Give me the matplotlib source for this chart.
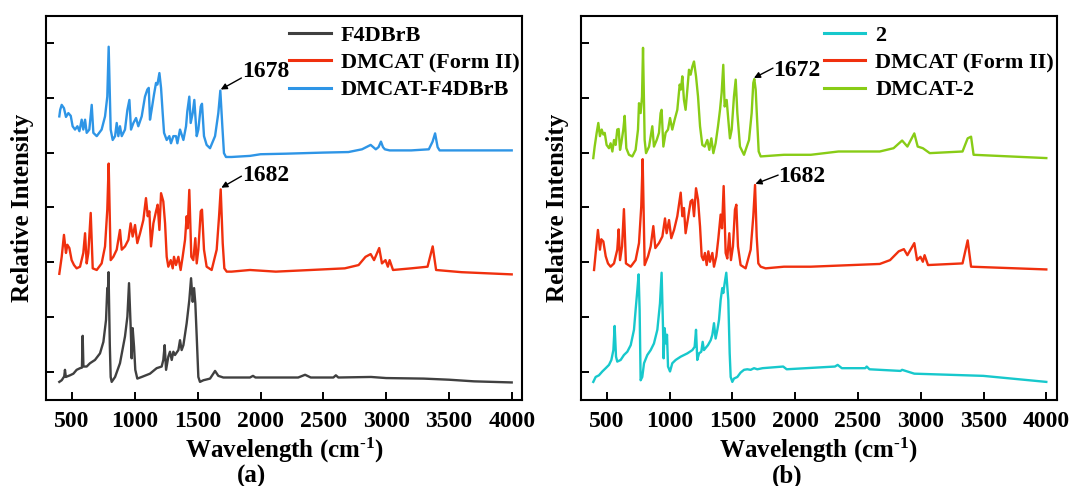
import matplotlib
matplotlib.use("Agg")
import matplotlib.pyplot as plt

plt.rcParams['font.family'] = ['Liberation Serif', 'DejaVu Serif']
plt.rcParams['font.weight'] = 'bold'
plt.rcParams['mathtext.fontset'] = 'custom'
plt.rcParams['mathtext.rm'] = 'Liberation Serif:bold'
plt.rcParams['mathtext.it'] = 'Liberation Serif:italic:bold'
plt.rcParams['mathtext.bf'] = 'Liberation Serif:bold'

# ---------------- data (wavenumber, stacked relative intensity) ----------------
f4dbrb = [(398, -0.18), (417, -0.15), (437, -0.08), (443, 0.04), (450, -0.09), (483, -0.06),
          (510, -0.03), (536, 0.04), (563, 0.07), (578, 0.08), (584, 0.66), (590, 0.10),
          (616, 0.10), (642, 0.16), (682, 0.22), (722, 0.34), (749, 0.55), (770, 0.95),
          (780, 1.53), (784, 1.40), (790, 1.82), (800, 0.50), (807, -0.09), (815, -0.18),
          (842, -0.09), (881, 0.16), (921, 0.65), (940, 1.01), (953, 1.62), (966, 0.83),
          (974, 0.25), (982, 0.80), (993, 0.46), (1003, 0.04), (1019, -0.12), (1054, -0.09),
          (1120, -0.03), (1173, 0.07), (1213, 0.10), (1226, 0.22), (1237, 0.49), (1248, 0.04),
          (1266, 0.28), (1279, 0.37), (1293, 0.22), (1306, 0.37), (1319, 0.31), (1346, 0.40),
          (1359, 0.58), (1372, 0.40), (1386, 0.49), (1412, 0.89), (1433, 1.31), (1447, 1.71),
          (1460, 1.28), (1471, 1.53), (1481, 1.25), (1492, 0.65), (1505, -0.09), (1518, -0.18),
          (1545, -0.15), (1598, -0.12), (1624, -0.03), (1638, 0.02), (1664, -0.07), (1704, -0.10),
          (1916, -0.10), (1940, -0.07), (1960, -0.10), (2300, -0.10), (2355, -0.05), (2400, -0.10),
          (2580, -0.10), (2600, -0.06), (2620, -0.10), (2880, -0.09), (3000, -0.11), (3300, -0.12),
          (3500, -0.14), (3700, -0.17), (4000, -0.19)]

dmcat_a = [(398, 1.79), (417, 2.10), (435, 2.50), (451, 2.17), (462, 2.32), (478, 2.26), (496, 2.04),
           (515, 1.95), (536, 1.89), (563, 1.92), (589, 2.17), (603, 2.53), (616, 1.98), (629, 2.17),
           (648, 2.90), (664, 1.89), (696, 1.86), (735, 1.98), (762, 2.29), (780, 2.96), (791, 3.80),
           (807, 2.04), (828, 2.10), (855, 2.23), (881, 2.59), (895, 2.23), (921, 2.29), (948, 2.41),
           (966, 2.71), (982, 2.47), (1001, 2.68), (1019, 2.35), (1041, 2.53), (1067, 2.77),
           (1088, 3.17), (1102, 2.84), (1115, 2.93), (1128, 2.29), (1147, 2.71), (1168, 2.93),
           (1181, 3.05), (1195, 2.59), (1208, 3.26), (1226, 3.11), (1240, 2.71), (1253, 2.10),
           (1266, 1.92), (1285, 2.04), (1301, 1.89), (1311, 2.10), (1327, 1.95), (1346, 2.10),
           (1364, 1.86), (1380, 2.10), (1399, 2.41), (1412, 2.84), (1420, 2.62), (1433, 3.32),
           (1449, 2.10), (1465, 2.04), (1481, 2.44), (1492, 1.98), (1505, 2.23), (1524, 2.93),
           (1534, 2.96), (1550, 2.23), (1571, 1.92), (1611, 1.86), (1651, 2.23), (1670, 2.84),
           (1683, 3.33), (1699, 2.35), (1712, 1.89), (1731, 1.83), (1770, 1.83), (1916, 1.86),
           (2122, 1.83), (2400, 1.86), (2671, 1.89), (2781, 1.95), (2836, 2.10), (2877, 2.15),
           (2904, 2.04), (2945, 2.26), (2967, 1.98), (2995, 2.04), (3014, 1.92), (3028, 2.04),
           (3055, 1.86), (3200, 1.89), (3330, 1.92), (3371, 2.29), (3398, 1.86), (3600, 1.82),
           (4000, 1.78)]

dmcat_f4dbrb = [(398, 4.66), (405, 4.78), (417, 4.87), (435, 4.81), (451, 4.65), (470, 4.72),
                (489, 4.67), (504, 4.48), (523, 4.42), (542, 4.48), (558, 4.39), (576, 4.60),
                (589, 4.42), (603, 4.60), (616, 4.36), (637, 4.42), (656, 4.87), (669, 4.36),
                (696, 4.30), (735, 4.42), (762, 4.66), (780, 5.02), (791, 5.93), (807, 4.42),
                (823, 4.23), (842, 4.30), (855, 4.54), (868, 4.30), (881, 4.48), (895, 4.30),
                (921, 4.42), (940, 4.78), (956, 4.96), (969, 4.42), (988, 4.54), (1009, 4.63),
                (1027, 4.48), (1054, 4.66), (1080, 5.02), (1099, 5.15), (1110, 5.18), (1120, 4.60),
                (1133, 4.78), (1152, 5.06), (1168, 5.27), (1179, 5.24), (1195, 5.45), (1208, 5.18),
                (1221, 4.72), (1232, 4.36), (1253, 4.23), (1274, 4.30), (1287, 4.17), (1306, 4.30),
                (1327, 4.30), (1338, 4.17), (1359, 4.42), (1386, 4.23), (1407, 4.48), (1417, 4.75),
                (1433, 5.02), (1444, 4.54), (1460, 4.72), (1473, 4.96), (1492, 4.30), (1505, 4.42),
                (1524, 4.84), (1534, 4.89), (1550, 4.30), (1571, 4.14), (1598, 4.08), (1638, 4.30),
                (1664, 4.72), (1680, 5.13), (1696, 4.48), (1709, 3.99), (1725, 3.92), (1770, 3.92),
                (1916, 3.94), (2000, 3.97), (2200, 3.98), (2500, 4.00), (2700, 4.01), (2808, 4.06),
                (2877, 4.14), (2918, 4.06), (2940, 4.10), (2959, 4.20), (2975, 4.10), (2990, 4.06),
                (3028, 4.04), (3200, 4.04), (3340, 4.06), (3370, 4.20), (3390, 4.35), (3410, 4.10),
                (3426, 4.04), (3600, 4.04), (4000, 4.04)]

coformer_2 = [(393, -0.18), (412, -0.09), (438, -0.06), (465, 0.01), (492, 0.07), (518, 0.13),
              (537, 0.22), (553, 0.40), (563, 0.84), (574, 0.28), (584, 0.19), (611, 0.22),
              (637, 0.31), (664, 0.37), (691, 0.49), (717, 0.77), (730, 1.13), (744, 1.50),
              (754, 1.78), (762, 1.13), (770, -0.15), (783, -0.09), (797, 0.16), (823, 0.31),
              (850, 0.40), (876, 0.52), (903, 0.77), (924, 1.25), (937, 1.81), (948, 0.83),
              (953, 0.25), (961, 0.80), (972, 0.52), (980, 0.68), (988, 0.10), (1004, 0.01),
              (1022, 0.16), (1049, 0.22), (1089, 0.28), (1142, 0.34), (1182, 0.40), (1200, 0.46),
              (1211, 0.77), (1221, 0.22), (1235, 0.34), (1253, 0.37), (1264, 0.55), (1274, 0.40),
              (1306, 0.49), (1328, 0.58), (1341, 0.68), (1354, 0.89), (1367, 0.61), (1381, 0.77),
              (1394, 0.95), (1407, 1.31), (1420, 1.53), (1428, 1.44), (1439, 1.62), (1452, 1.81),
              (1460, 1.56), (1468, 1.31), (1479, 0.34), (1487, -0.09), (1500, -0.18), (1513, -0.12),
              (1540, -0.09), (1566, -0.01), (1593, 0.04), (1619, 0.05), (1646, 0.04), (1673, 0.07),
              (1699, 0.05), (1741, 0.07), (1905, 0.10), (1933, 0.05), (2317, 0.10), (2339, 0.13),
              (2372, 0.07), (2559, 0.07), (2570, 0.10), (2592, 0.05), (2839, 0.02), (2852, 0.04),
              (2949, -0.03), (3498, -0.07), (4000, -0.18)]

dmcat_b = [(399, 1.86), (412, 2.17), (430, 2.59), (446, 2.23), (457, 2.42), (473, 2.38), (492, 2.11),
           (510, 1.98), (531, 1.92), (558, 1.98), (584, 2.23), (595, 2.60), (606, 2.04), (622, 2.29),
           (637, 2.97), (653, 1.98), (691, 1.92), (730, 2.04), (757, 2.35), (775, 3.02), (786, 3.88),
           (802, 1.95), (829, 2.11), (850, 2.29), (871, 2.66), (887, 2.26), (916, 2.35), (943, 2.47),
           (964, 2.80), (977, 2.53), (996, 2.77), (1014, 2.44), (1036, 2.59), (1062, 2.84),
           (1089, 3.27), (1102, 2.84), (1115, 2.99), (1128, 2.53), (1147, 2.80), (1168, 3.11),
           (1182, 3.14), (1195, 2.84), (1211, 3.35), (1227, 3.14), (1243, 2.65), (1256, 2.11),
           (1269, 2.04), (1282, 2.17), (1296, 1.95), (1309, 2.20), (1322, 2.01), (1341, 2.17),
           (1354, 1.92), (1373, 2.11), (1389, 2.44), (1407, 2.87), (1418, 2.62), (1431, 3.39),
           (1447, 2.17), (1460, 2.07), (1476, 2.53), (1489, 2.04), (1505, 2.29), (1521, 2.96),
           (1532, 3.05), (1545, 2.29), (1566, 1.95), (1606, 1.89), (1646, 2.23), (1667, 2.84),
           (1681, 3.41), (1694, 2.47), (1707, 1.98), (1726, 1.92), (1765, 1.89), (1911, 1.92),
           (2125, 1.92), (2674, 1.97), (2756, 2.04), (2825, 2.20), (2866, 2.24), (2894, 2.13),
           (2949, 2.35), (2971, 2.04), (2998, 2.10), (3017, 2.01), (3031, 2.13), (3058, 1.95),
           (3333, 1.98), (3374, 2.40), (3401, 1.92), (4000, 1.87)]

dmcat_2 = [(393, 3.90), (404, 4.11), (420, 4.36), (433, 4.54), (446, 4.30), (460, 4.42), (473, 4.33),
           (484, 4.36), (499, 4.14), (518, 4.08), (531, 4.17), (545, 4.02), (558, 4.23), (571, 4.14),
           (584, 4.42), (595, 4.43), (606, 4.05), (616, 4.17), (632, 4.42), (643, 4.67), (656, 4.08),
           (677, 3.96), (704, 3.93), (730, 4.05), (749, 4.42), (757, 4.90), (770, 4.72), (781, 5.02),
           (789, 5.91), (802, 4.23), (813, 3.99), (837, 4.11), (863, 4.48), (876, 4.11), (898, 4.23),
           (916, 4.36), (929, 4.72), (937, 4.78), (951, 4.11), (969, 4.36), (988, 4.42), (1004, 4.63),
           (1022, 4.42), (1041, 4.60), (1062, 4.78), (1081, 5.24), (1091, 5.15), (1102, 5.39),
           (1115, 4.96), (1128, 4.78), (1142, 5.15), (1155, 5.51), (1168, 5.42), (1182, 5.57),
           (1195, 5.66), (1211, 5.39), (1227, 5.02), (1243, 4.48), (1261, 4.14), (1280, 4.11),
           (1301, 4.23), (1317, 4.05), (1333, 4.26), (1349, 3.99), (1367, 4.17), (1386, 4.48),
           (1402, 4.78), (1415, 5.09), (1428, 5.60), (1439, 4.84), (1455, 4.96), (1468, 4.60),
           (1481, 4.26), (1495, 4.42), (1513, 5.02), (1527, 5.33), (1540, 4.72), (1561, 4.11),
           (1593, 3.96), (1633, 4.23), (1654, 4.72), (1667, 5.27), (1675, 5.34), (1686, 5.15),
           (1696, 4.66), (1710, 4.02), (1726, 3.93), (1911, 3.96), (2125, 3.96), (2345, 4.02),
           (2674, 4.02), (2784, 4.08), (2852, 4.22), (2894, 4.11), (2949, 4.35), (2976, 4.11),
           (3017, 4.08), (3072, 3.99), (3333, 4.02), (3374, 4.26), (3401, 4.29), (3421, 3.96),
           (4000, 3.90)]

labels_a = ['F4DBrB', 'DMCAT (Form II)', 'DMCAT-F4DBrB']
labels_b = ['2', 'DMCAT (Form II)', 'DMCAT-2']
colors_a = ['#404040', '#F0300E', '#2E95E6']
colors_b = ['#17C8CC', '#F0300E', '#88CC16']
x_ticks = [500, 1000, 1500, 2000, 2500, 3000, 3500, 4000]
notes_a = [('1678', (1683, 5.15), (1848, 5.36), (1850, 5.48)),
           ('1682', (1688, 3.36), (1848, 3.57), (1850, 3.59))]
notes_b = [('1672', (1672, 5.36), (1824, 5.54), (1826, 5.50)),
           ('1682', (1684, 3.43), (1865, 3.59), (1867, 3.56))]

# ---------------- figure ----------------
fig = plt.figure(figsize=(10.75, 4.86), dpi=100)
W, H = 1075.0, 486.0
ax_a = fig.add_axes([46 / W, 1 - 400 / H, 476 / W, 384 / H])
ax_b = fig.add_axes([580.6 / W, 1 - 400 / H, 476 / W, 384 / H])


def draw(ax, series, labels, colors, notes, tag, tagx):
    for data, lab, col in zip(series, labels, colors):
        xs = [p[0] for p in data]
        ys = [p[1] for p in data]
        ax.plot(xs, ys, color=col, lw=1.7, label=lab, solid_joinstyle='round')
    ax.set_xlim(292, 4082)
    ax.set_ylim(-0.51, 6.49)
    ax.set_xticks(x_ticks)
    ax.set_yticks(range(0, 7))
    ax.set_yticklabels([])
    ax.tick_params(axis='both', direction='in', length=6, width=1.4, labelsize=17)
    ax.tick_params(axis='x', pad=8)
    for sp in ax.spines.values():
        sp.set_linewidth(1.5)
    ax.set_xlabel(r'Wavelength (cm$^{\text{-1}}$)', fontsize=18, fontweight='bold', labelpad=3)
    ax.set_ylabel('Relative Intensity', fontsize=18, fontweight='bold', labelpad=5)
    for txt, head, tail, tpos in notes:
        ax.annotate('', xy=head, xytext=tail,
                    arrowprops=dict(arrowstyle='-|>', color='black', lw=1.0,
                                    mutation_scale=9, shrinkA=0, shrinkB=0))
        ax.text(tpos[0], tpos[1], txt, ha='left', va='center', fontsize=17, fontweight='bold')
    leg = ax.legend(loc='upper right', bbox_to_anchor=(1.006, 0.990), frameon=False,
                    fontsize=16, handlelength=1.85, handletextpad=0.45, labelspacing=0.3,
                    borderaxespad=0.0, borderpad=0.25)
    for line in leg.get_lines():
        line.set_linewidth(2.2)
    fig.text(tagx / W, 1 - 476 / H, tag, ha='center', va='center', fontsize=18, fontweight='bold')


draw(ax_a, [f4dbrb, dmcat_a, dmcat_f4dbrb], labels_a, colors_a, notes_a, '(a)', 252)
draw(ax_b, [coformer_2, dmcat_b, dmcat_2], labels_b, colors_b, notes_b, '(b)', 787)

fig.savefig('out.png', dpi=100)
